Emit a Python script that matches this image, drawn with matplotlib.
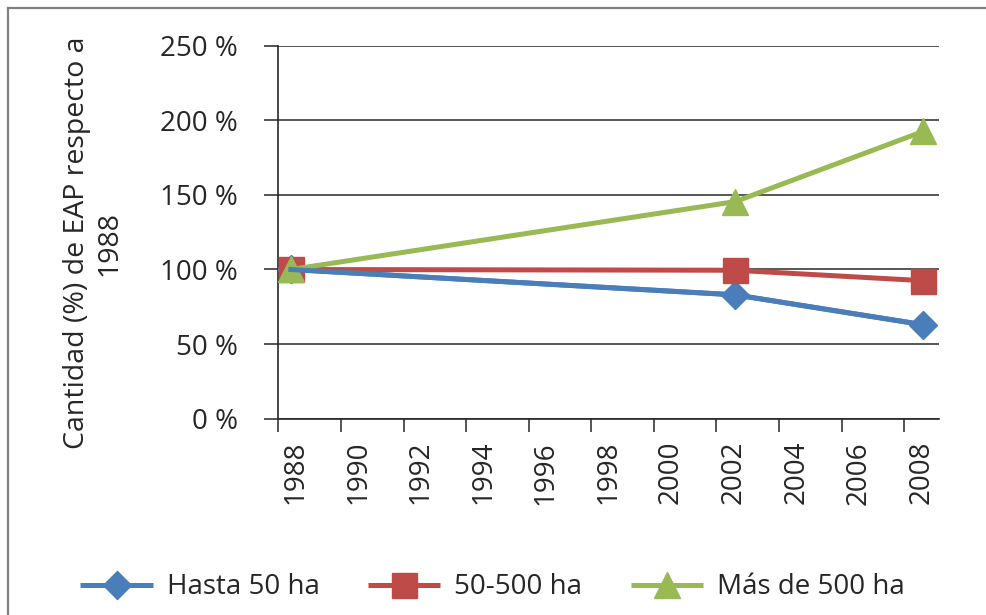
import numpy as np
import matplotlib
matplotlib.use('Agg')
import matplotlib.pyplot as plt
from matplotlib.lines import Line2D

plt.rcParams['font.family'] = ['Open Sans', 'DejaVu Sans']

# datos (EAP respecto a 1988, %)
anios = [1988.4, 2002.6, 2008.6]
hasta_50 = [100, 83, 63]
de_50_a_500 = [100, 99.5, 92.5]
mas_de_500 = [100, 145.5, 192.5]

series_nombres = ['Hasta 50 ha', '50-500 ha', 'Más de 500 ha']
colores = ['#4a7ebb', '#be4b48', '#98b954']
marcadores = ['D', 's', '^']
tam_marcador = [14, 18, 19]

xticks = list(range(1988, 2009, 2))
yticks = [0, 50, 100, 150, 200, 250]
texto = '#262626'

fig = plt.figure(figsize=(9.87, 6.15), dpi=100)
ax = fig.add_axes([0.282, 0.3192, 0.669, 0.6065])

valores = [hasta_50, de_50_a_500, mas_de_500]
for i in range(3):
    ax.plot(anios, valores[i], color=colores[i], lw=3.6, marker=marcadores[i],
            markersize=tam_marcador[i], label=series_nombres[i], zorder=3 + i,
            solid_capstyle='butt')
# linea azul por encima (como en el original)
ax.plot(anios, hasta_50, color=colores[0], lw=3.6, zorder=7)

ax.set_xlim(1988, 2009.1)
ax.set_ylim(0, 250)

# marcas en el inicio del año, etiquetas un poco desplazadas (como en Excel)
ax.set_xticks(xticks)
ax.set_xticklabels([])
ax.set_xticks([a + 0.55 for a in xticks], minor=True)
ax.set_xticklabels([str(a) for a in xticks], minor=True, rotation=90,
                   fontsize=20, color=texto)
ax.set_yticks(yticks)
ax.set_yticklabels(['%d %%' % v for v in yticks], fontsize=20, color=texto)

ax.tick_params(axis='x', which='major', direction='out', length=9, width=1.1,
               color='#262626')
ax.tick_params(axis='x', which='minor', length=0, pad=16)
ax.tick_params(axis='y', direction='out', length=10, width=1.1, pad=19, color='#262626')

ax.grid(axis='y', color='#3a3a3a', lw=1.2, zorder=1)
ax.set_axisbelow(True)
for s in ['top', 'right']:
    ax.spines[s].set_visible(False)
for s in ['left', 'bottom']:
    ax.spines[s].set_color('#262626')
    ax.spines[s].set_linewidth(1.2)

fig.text(93 / 987, 1 - 243 / 615, 'Cantidad (%) de EAP respecto a\n1988',
         rotation=90, ha='center', va='center', multialignment='center',
         fontsize=20.5, color=texto)

fig.legend(loc='center', bbox_to_anchor=(0.499, 0.045), ncol=3, frameon=False,
           fontsize=20, handlelength=2.6, handletextpad=0.5, columnspacing=1.75,
           labelcolor=texto)

# marco exterior
fig.add_artist(Line2D([8 / 987, 8 / 987], [0, 1 - 8 / 615], transform=fig.transFigure,
                      color='#808080', lw=1.6))
fig.add_artist(Line2D([8 / 987, 1], [1 - 8 / 615, 1 - 8 / 615], transform=fig.transFigure,
                      color='#808080', lw=1.6))

fig.savefig('out.png', dpi=100)
